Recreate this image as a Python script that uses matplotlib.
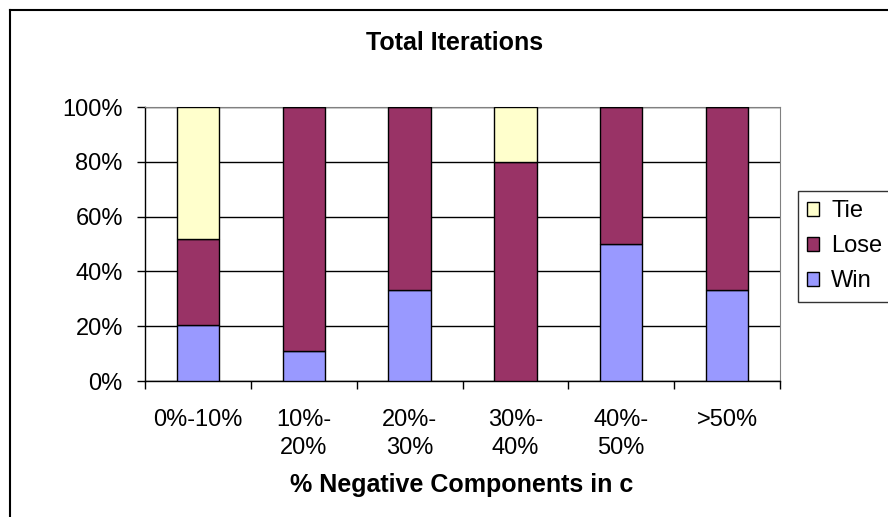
import matplotlib
matplotlib.use("Agg")
import matplotlib.pyplot as plt
from matplotlib.lines import Line2D
from matplotlib.patches import Patch
import numpy as np

plt.rcParams['font.family'] = ['Liberation Sans', 'DejaVu Sans']

categories = ['0%-10%', '10%-\n20%', '20%-\n30%', '30%-\n40%', '40%-\n50%', '>50%']
win = [20.5, 11.1, 33.3, 0.0, 50.0, 33.3]
lose = [31.5, 88.9, 66.7, 80.0, 50.0, 66.7]
tie = [48.0, 0.0, 0.0, 20.0, 0.0, 0.0]
yticks = [0, 20, 40, 60, 80, 100]

c_win = '#9999FF'
c_lose = '#993366'
c_tie = '#FFFFCC'

W, H = 888, 517
fig = plt.figure(figsize=(W / 100, H / 100), dpi=100)
ax = fig.add_axes([145 / W, 1 - 381 / H, 635 / W, 274 / H])

x = np.arange(len(categories))
bw = 0.4
kw = dict(width=bw, edgecolor='black', linewidth=1.0, zorder=3)
ax.bar(x, win, color=c_win, **kw)
ax.bar(x, lose, bottom=win, color=c_lose, **kw)
ax.bar(x, tie, bottom=np.add(win, lose), color=c_tie, **kw)

ax.set_xlim(-0.5, len(categories) - 0.5)
ax.set_ylim(0, 100)
ax.set_yticks(yticks)
ax.set_yticklabels([f'{v}%' for v in yticks], fontsize=17)
ax.yaxis.grid(True, color='black', linewidth=1.0, zorder=0)
ax.set_axisbelow(True)
ax.tick_params(axis='y', length=6, width=1, pad=10, direction='out')

ax.set_xticks(x)
ax.set_xticklabels(categories, fontsize=17, linespacing=1.38)
ax.set_xticks(np.arange(len(categories) + 1) - 0.5, minor=True)
ax.tick_params(axis='x', which='major', length=0, pad=20)
ax.tick_params(axis='x', which='minor', length=6, width=1, direction='out')

for side in ['top', 'right']:
    ax.spines[side].set_color('#808080')
for side in ['left', 'bottom']:
    ax.spines[side].set_color('black')
    ax.spines[side].set_linewidth(1.0)

fig.text(455 / W, 1 - 43 / H, 'Total Iterations', ha='center', va='center',
         fontsize=18, fontweight='bold')
fig.text(462 / W, 1 - 485 / H, '% Negative Components in c', ha='center',
         va='center', fontsize=18, fontweight='bold')

# legend box runs past the right edge of the canvas
handles = [Patch(facecolor=c_tie, edgecolor='black', linewidth=1.0),
           Patch(facecolor=c_lose, edgecolor='black', linewidth=1.0),
           Patch(facecolor=c_win, edgecolor='black', linewidth=1.0)]
leg = fig.legend(handles, ['Tie', 'Lose', 'Win'], loc='upper left',
                 bbox_to_anchor=(798 / W, 1 - 191 / H - 0.3, 115 / W, 0.3),
                 mode='expand', fontsize=17,
                 frameon=True, fancybox=False, shadow=False,
                 handlelength=0.5, handleheight=0.5, handletextpad=0.5,
                 labelspacing=0.55, borderpad=0.4, borderaxespad=0)
leg.get_frame().set_edgecolor('black')
leg.get_frame().set_linewidth(1.0)

# chart frame
fig.add_artist(Line2D([10 / W, 10 / W], [0, 1 - 10 / H], color='black', linewidth=1.5))
fig.add_artist(Line2D([10 / W, 1], [1 - 10 / H, 1 - 10 / H], color='black', linewidth=1.5))

fig.savefig('out.png', dpi=100)
